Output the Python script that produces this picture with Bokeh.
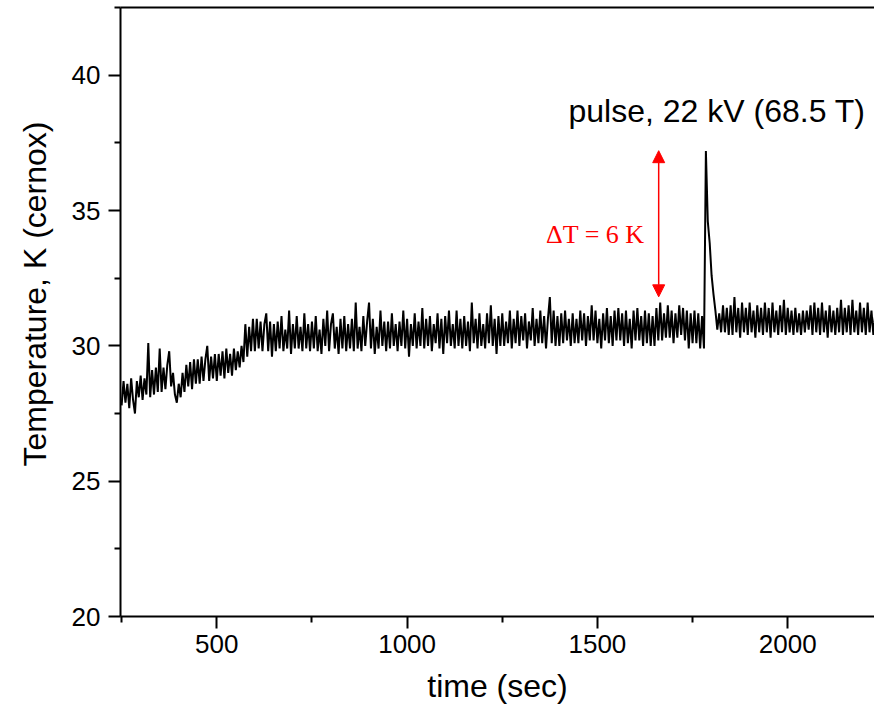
from bokeh.plotting import figure
from bokeh.models import Range1d, LinearAxis, FixedTicker, Arrow, NormalHead, Label, Title
from bokeh.embed import file_html
from bokeh.resources import INLINE

# ---- data, one value every 5 s starting at 250 s ----
time_start = 250
time_step = 5
temperature = [
    # 250-345
    27.8, 28.7, 27.9, 28.6, 27.7, 28.8, 28.0, 27.5, 28.7, 28.1,
    28.9, 28.0, 28.8, 28.2, 30.1, 28.1, 29.1, 28.2, 29.2, 28.3,
    # 350-445
    29.9, 28.3, 29.2, 28.4, 29.3, 29.8, 28.5, 29.0, 28.2, 27.9,
    28.6, 28.1, 29.0, 28.3, 29.3, 28.5, 29.4, 28.4, 29.5, 28.6,
    # 450-545
    29.5, 28.6, 29.6, 28.7, 29.5, 30.0, 28.7, 29.6, 28.8, 29.7,
    28.7, 29.7, 28.9, 29.8, 28.8, 29.9, 29.0, 29.7, 28.9, 29.9,
    # 550-645
    29.1, 29.8, 29.2, 30.0, 29.4, 30.8, 29.6, 30.7, 29.8, 31.0,
    29.8, 31.0, 29.9, 30.9, 29.8, 30.8, 31.2, 29.8, 30.9, 29.6,
    # 650-745
    30.8, 29.8, 30.9, 29.9, 31.1, 29.8, 30.6, 29.9, 31.3, 29.7,
    30.8, 29.9, 31.1, 29.9, 30.7, 29.8, 31.2, 29.9, 30.8, 29.8,
    # 750-845
    30.9, 29.9, 31.1, 29.8, 30.6, 29.7, 31.0, 30.0, 31.3, 29.8,
    30.8, 31.2, 29.9, 30.7, 29.7, 31.0, 29.9, 31.1, 29.8, 30.8,
    # 850-945
    29.9, 31.0, 29.8, 31.6, 29.9, 30.7, 29.8, 31.1, 30.0, 30.9,
    31.6, 29.9, 31.0, 29.7, 30.7, 29.9, 31.3, 30.0, 30.9, 29.8,
    # 950-1045
    30.9, 29.9, 31.2, 30.0, 30.8, 29.8, 30.9, 30.0, 31.3, 29.9,
    31.0, 29.6, 30.8, 30.0, 31.2, 29.9, 30.9, 30.0, 31.4, 29.9,
    # 1050-1145
    31.0, 30.0, 31.1, 29.8, 30.8, 30.1, 31.2, 29.9, 31.0, 29.7,
    31.1, 30.1, 31.3, 30.0, 30.8, 29.9, 31.3, 30.0, 31.0, 29.9,
    # 1150-1245
    31.1, 30.0, 30.9, 29.8, 31.6, 30.1, 31.0, 29.9, 31.2, 30.0,
    30.8, 29.9, 31.2, 30.1, 31.5, 30.0, 31.0, 29.7, 31.1, 30.0,
    # 1250-1345
    31.2, 30.0, 30.9, 30.1, 31.3, 29.9, 31.0, 30.1, 31.3, 30.0,
    31.1, 30.2, 31.2, 29.9, 30.9, 30.2, 31.4, 30.0, 31.0, 30.1,
    # 1350-1445
    31.3, 30.1, 31.1, 29.9, 31.0, 31.8, 30.1, 31.3, 30.0, 31.1,
    30.0, 31.2, 30.1, 31.3, 30.2, 31.0, 30.0, 31.2, 30.1, 31.0,
    # 1450-1545
    30.1, 31.3, 30.2, 31.2, 30.0, 31.1, 30.2, 31.5, 30.2, 31.3,
    30.1, 31.0, 29.9, 31.2, 30.2, 31.4, 30.1, 31.1, 30.0, 31.3,
    # 1550-1645
    30.2, 31.4, 30.2, 31.2, 30.0, 31.3, 30.1, 31.0, 29.9, 31.3,
    30.2, 31.4, 30.2, 31.1, 30.0, 31.3, 30.1, 31.2, 30.0, 31.1,
    # 1650-1745
    30.0, 31.4, 30.2, 31.6, 30.2, 31.2, 30.3, 31.5, 30.3, 31.3,
    30.1, 31.2, 30.3, 31.5, 30.4, 31.4, 30.2, 31.3, 29.9, 31.2,
    # 1750-1845 (pulse at ~1785 s)
    30.1, 31.3, 30.1, 31.2, 29.9, 31.1, 29.9, 37.2, 34.6, 33.8,
    32.6, 31.9, 31.3, 30.6, 31.2, 30.5, 31.5, 30.5, 31.4, 30.4,
    # 1850-1945
    31.5, 30.4, 31.8, 30.5, 31.4, 30.3, 31.6, 30.5, 31.4, 30.4,
    31.6, 30.5, 31.3, 30.3, 31.5, 30.5, 31.4, 30.4, 31.6, 30.5,
    # 1950-2045
    31.4, 30.3, 31.6, 30.5, 31.3, 30.4, 31.5, 30.5, 31.7, 30.4,
    31.4, 30.5, 31.3, 30.4, 31.4, 30.5, 31.2, 30.4, 31.3, 30.5,
    # 2050-2145
    31.3, 30.6, 31.5, 30.4, 31.6, 30.5, 31.4, 30.4, 31.6, 30.5,
    31.3, 30.3, 31.5, 30.5, 31.3, 30.4, 31.4, 30.5, 31.7, 30.4,
    # 2150-2230
    31.4, 30.5, 31.5, 30.4, 31.7, 30.5, 31.3, 30.4, 31.6, 30.5,
    31.4, 30.4, 31.6, 30.5, 31.3, 30.4, 31.2,
]
time = [time_start + i * time_step for i in range(len(temperature))]

x_major_ticks = [500, 1000, 1500, 2000]
x_minor_ticks = [250, 750, 1250, 1750, 2250]
y_major_ticks = [20, 25, 30, 35, 40]
y_minor_ticks = [22.5, 27.5, 32.5, 37.5, 42.5]

x_label = "time (sec)"
y_label = "Temperature, K (cernox)"
pulse_text = "pulse, 22 kV (68.5 T)"
delta_text = "\u0394T = 6 K"

# annotation anchors (data units)
arrow_x = 1661
arrow_top = 37.21
arrow_bottom = 31.81
delta_x = 1624
delta_y = 34.1
pulse_x = 1424
pulse_y = 38.66

FONT = "Liberation Sans"

p = figure(width=874, height=715, output_backend="svg", toolbar_location=None,
           x_range=Range1d(247, 2228), y_range=Range1d(20, 42.5),
           min_border_left=120, min_border_right=0, min_border_top=7,
           min_border_bottom=99)
p.background_fill_color = "white"
p.border_fill_color = "white"
p.outline_line_color = None
p.xgrid.visible = False
p.ygrid.visible = False

p.line(time, temperature, line_color="black", line_width=2.0)

for ax in (p.xaxis[0], p.yaxis[0]):
    ax.axis_line_width = 2
    ax.major_tick_line_width = 2
    ax.minor_tick_line_width = 2
    ax.major_tick_out = 12
    ax.major_tick_in = 0
    ax.minor_tick_out = 6
    ax.minor_tick_in = 0
    ax.major_label_text_font = FONT
    ax.major_label_text_font_size = "26px"
    ax.major_label_text_color = "black"
    ax.axis_label_text_font = FONT
    ax.axis_label_text_font_size = "32px"
    ax.axis_label_text_font_style = "normal"
    ax.axis_label_text_color = "black"

p.xaxis[0].ticker = FixedTicker(ticks=x_major_ticks, minor_ticks=x_minor_ticks)
p.yaxis[0].ticker = FixedTicker(ticks=y_major_ticks, minor_ticks=y_minor_ticks)
p.xaxis[0].axis_label = x_label
p.xaxis[0].major_label_standoff = 6
p.yaxis[0].major_label_standoff = 8
p.xaxis[0].axis_label_standoff = 12

# y label as a left-side title so it can sit slightly above the frame centre
y_title = Title(text=y_label, align="right", vertical_align="top", offset=114,
                standoff=28, text_font=FONT, text_font_size="32px",
                text_font_style="normal", text_color="black")
p.add_layout(y_title, "left")

top_axis = LinearAxis(ticker=FixedTicker(ticks=[]), axis_line_width=2,
                      major_tick_line_color=None, minor_tick_line_color=None,
                      major_label_text_font_size="0px")
p.add_layout(top_axis, "above")

arrow = Arrow(x_start=arrow_x, y_start=arrow_bottom, x_end=arrow_x, y_end=arrow_top,
              line_color="red", line_width=1.5,
              start=NormalHead(size=12, fill_color="red", line_color="red"),
              end=NormalHead(size=12, fill_color="red", line_color="red"))
p.add_layout(arrow)

p.add_layout(Label(x=delta_x, y=delta_y, text=delta_text, text_color="red",
                   text_font="Liberation Serif", text_font_size="26px",
                   text_align="right", text_baseline="middle"))
p.add_layout(Label(x=pulse_x, y=pulse_y, text=pulse_text, text_color="black",
                   text_font=FONT, text_font_size="32px",
                   text_align="left", text_baseline="alphabetic"))

open("out.html", "w").write(file_html(p, INLINE))
